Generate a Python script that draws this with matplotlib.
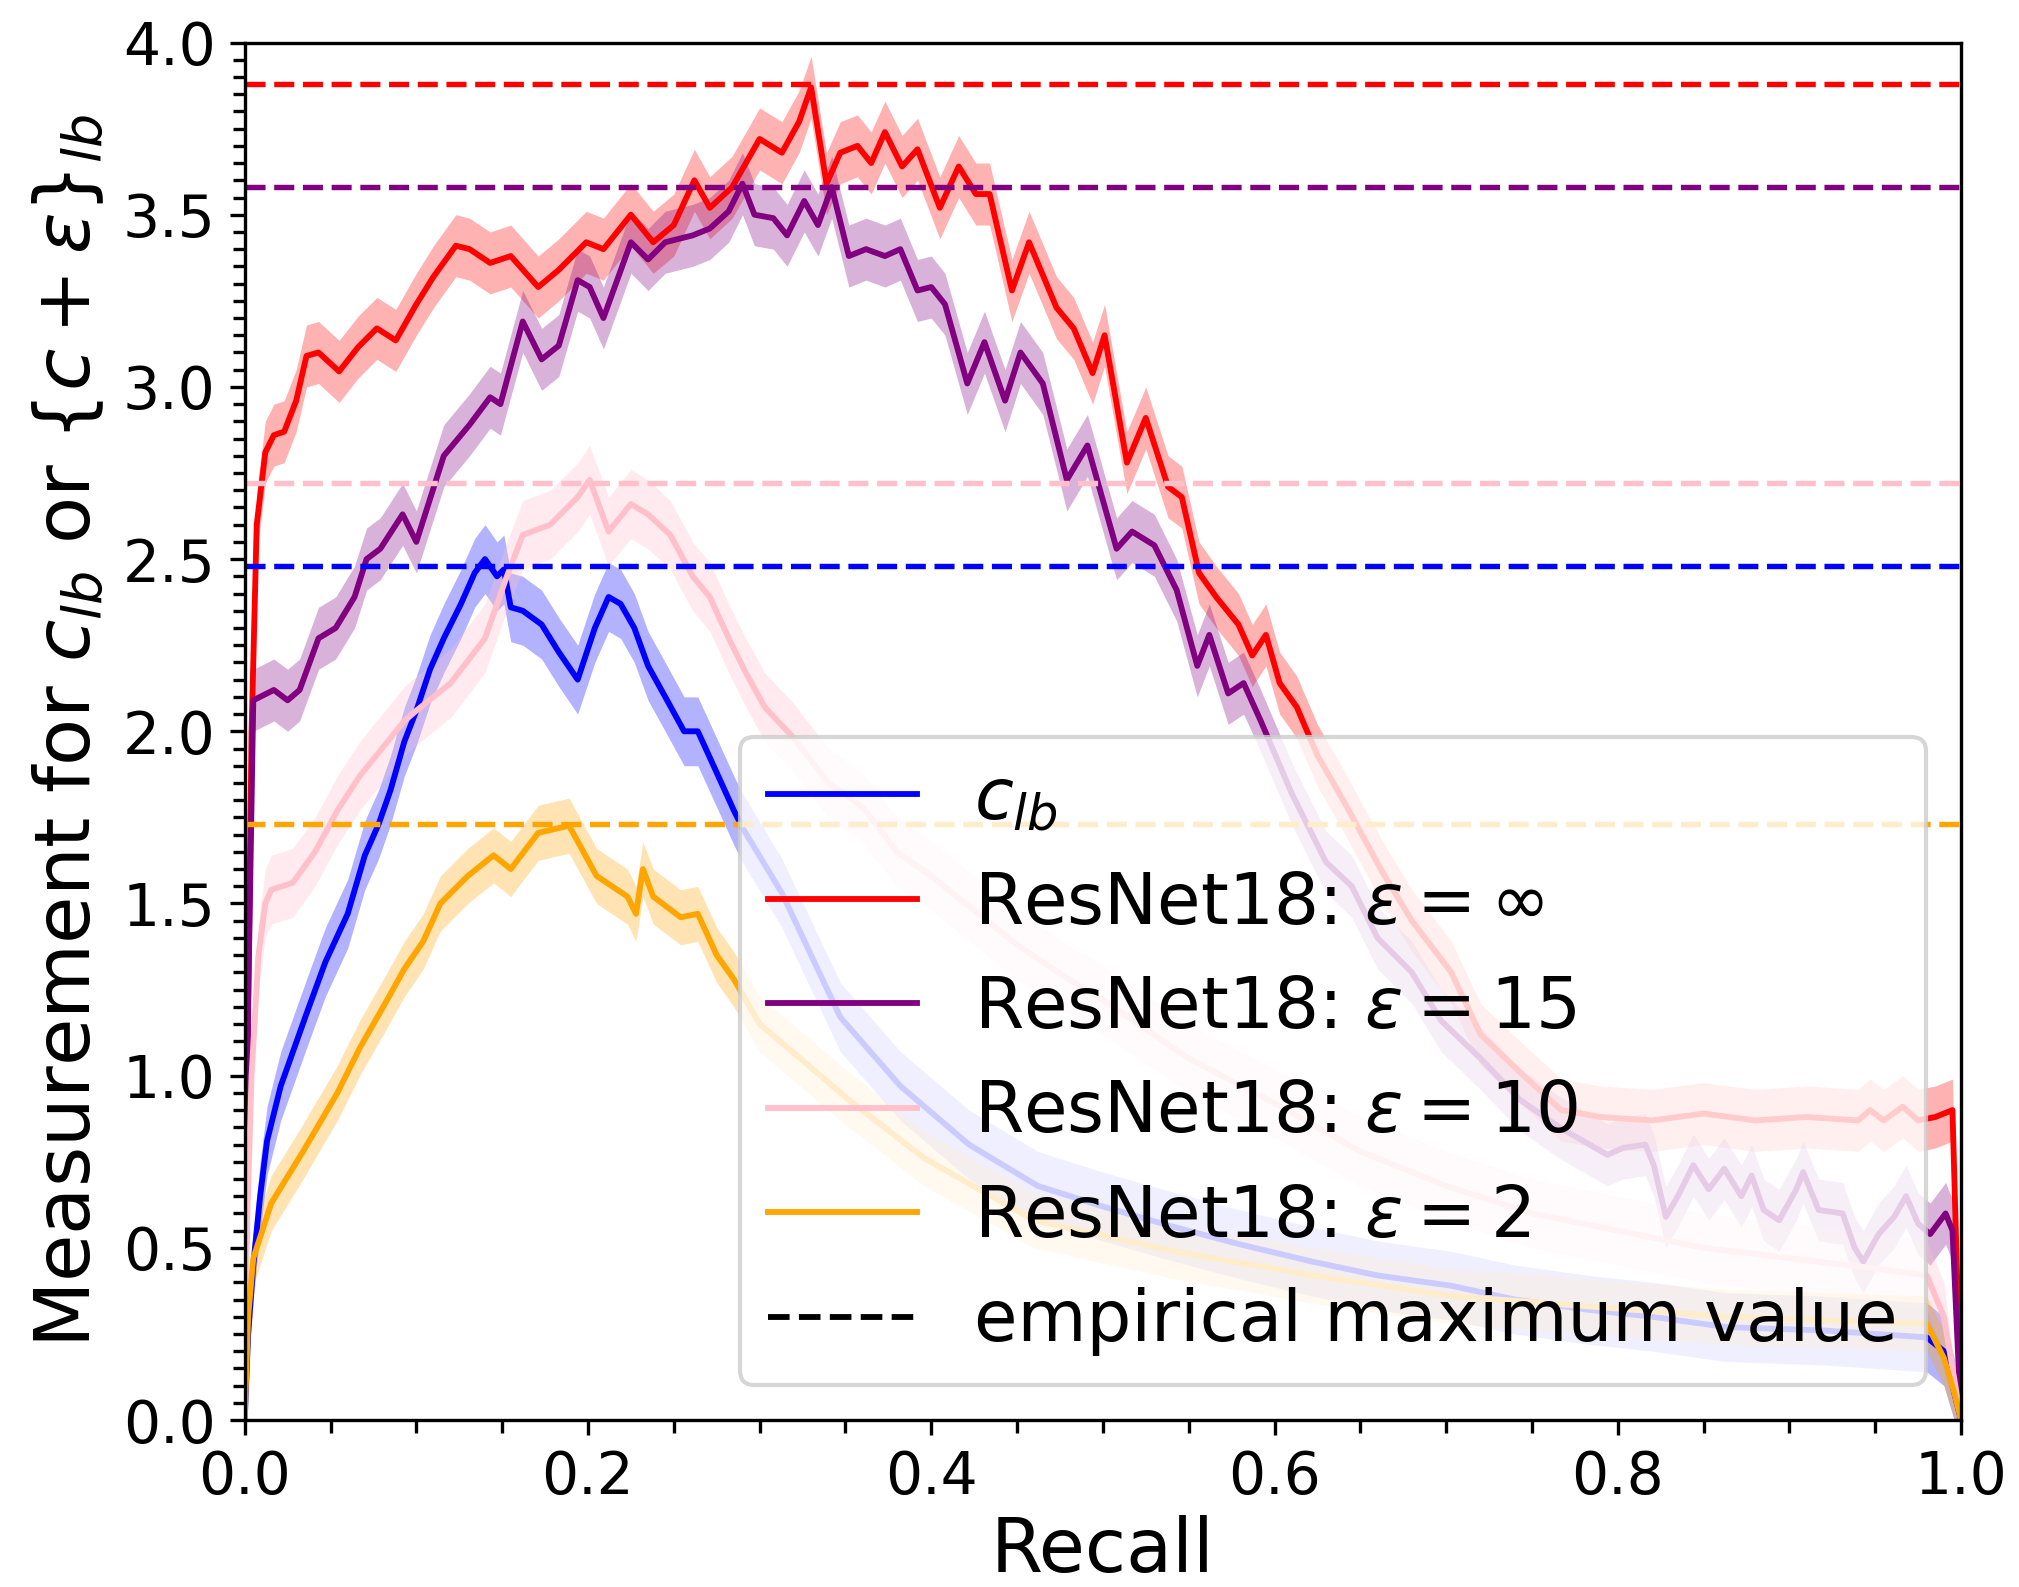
import numpy as np
import matplotlib
matplotlib.use("Agg")
import matplotlib.pyplot as plt
from matplotlib.ticker import MultipleLocator
from matplotlib.lines import Line2D

# ---------------- data ----------------
blue_x = [0, .002, .005, .009, .013, .021, .031, .036, .047, .06, .07, .078, .085, .093, .1, .108,
          .116, .126, .134, .14, .147, .151, .155, .162, .173, .183, .194, .204, .212, .219, .227,
          .235, .245, .256, .264, .275, .285, .29, .313, .347, .382, .422, .462, .5, .542, .58,
          .622, .66, .703, .74, .783, .82, .863, .92, .98, .99, .996, 1.0]
blue_y = [0, .25, .45, .65, .81, .97, 1.11, 1.18, 1.33, 1.47, 1.64, 1.73, 1.83, 1.97, 2.06, 2.18,
          2.27, 2.37, 2.46, 2.50, 2.45, 2.47, 2.36, 2.35, 2.31, 2.23, 2.15, 2.30, 2.39, 2.37, 2.30,
          2.19, 2.10, 2.0, 2.0, 1.88, 1.77, 1.72, 1.53, 1.17, .97, .80, .68, .62, .56, .51,
          .46, .42, .39, .35, .32, .30, .27, .26, .24, .20, .08, 0]

red_x = [0, .002, .004, .007, .012, .017, .023, .030, .036, .043, .055, .066, .077, .088, .10, .11,
         .123, .131, .143, .155, .171, .183, .199, .209, .225, .238, .25, .262, .271, .284, .30,
         .313, .323, .33, .339, .347, .357, .365, .373, .383, .392, .405, .416, .426, .434, .447,
         .457, .473, .483, .494, .501, .514, .525, .538, .546, .556, .566, .579, .587, .595, .603,
         .613, .625, .64, .663, .68, .703, .72, .743, .767, .79, .82, .85, .88, .91, .94, .947,
         .955, .966, .975, .985, .995, 1.0]
red_y = [0, 1.2, 2.0, 2.6, 2.81, 2.86, 2.87, 2.96, 3.09, 3.10, 3.045, 3.115, 3.17, 3.135, 3.24, 3.32,
         3.41, 3.40, 3.36, 3.38, 3.29, 3.34, 3.42, 3.40, 3.50, 3.42, 3.47, 3.60, 3.52, 3.58, 3.72,
         3.68, 3.77, 3.87, 3.59, 3.68, 3.70, 3.65, 3.74, 3.64, 3.69, 3.52, 3.64, 3.56, 3.56, 3.28,
         3.42, 3.23, 3.17, 3.04, 3.15, 2.78, 2.91, 2.71, 2.68, 2.46, 2.39, 2.31, 2.22, 2.28, 2.14,
         2.07, 1.93, 1.80, 1.59, 1.45, 1.30, 1.12, 1.01, .90, .88, .87, .89, .87, .88, .87, .90,
         .87, .91, .87, .88, .90, 0]

purple_x = [0, .002, .005, .017, .025, .032, .043, .053, .064, .071, .079, .092, .10, .116, .131,
            .143, .149, .162, .173, .183, .194, .201, .209, .225, .235, .245, .261, .271, .282,
            .29, .297, .308, .316, .326, .334, .342, .352, .362, .373, .382, .392, .40, .408, .421,
            .431, .443, .452, .465, .479, .491, .508, .517, .53, .543, .555, .562, .573, .582,
            .592, .61, .63, .645, .66, .68, .697, .72, .743, .766, .794, .803, .816, .821, .828,
            .835, .844, .853, .862, .872, .878, .885, .894, .904, .908, .917, .931, .938, .943,
            .952, .961, .968, .975, .982, .991, .995, 1.0]
purple_y = [0, 1.2, 2.09, 2.12, 2.09, 2.12, 2.27, 2.30, 2.39, 2.50, 2.53, 2.63, 2.55, 2.80, 2.89,
            2.97, 2.95, 3.19, 3.08, 3.12, 3.31, 3.29, 3.20, 3.42, 3.37, 3.42, 3.44, 3.46, 3.51,
            3.59, 3.50, 3.49, 3.44, 3.54, 3.47, 3.58, 3.38, 3.40, 3.38, 3.40, 3.28, 3.29, 3.24, 3.01,
            3.13, 2.96, 3.10, 3.01, 2.73, 2.83, 2.53, 2.58, 2.54, 2.41, 2.19, 2.28, 2.11, 2.14,
            2.03, 1.82, 1.62, 1.55, 1.40, 1.30, 1.16, 1.05, .93, .85, .77, .79, .80, .74, .59,
            .65, .74, .67, .73, .65, .71, .61, .58, .67, .72, .61, .60, .50, .46,
            .54, .59, .65, .57, .54, .60, .55, 0]

pink_x = [0, .001, .004, .008, .012, .0155, .028, .041, .054, .067, .08, .093, .10, .12, .14, .152,
          .162, .178, .194, .201, .212, .225, .235, .248, .261, .271, .282, .292, .303, .32, .34,
          .36, .38, .40, .42, .45, .48, .5, .55, .6, .65, .7, .75, .8, .85, .9, .95, .98, .99, 1.0]
pink_y = [0, .5, 1.0, 1.35, 1.5, 1.54, 1.56, 1.65, 1.77, 1.87, 1.95, 2.03, 2.06, 2.14, 2.27, 2.44,
          2.57, 2.60, 2.68, 2.73, 2.58, 2.66, 2.63, 2.57, 2.45, 2.39, 2.27, 2.17, 2.07, 1.98, 1.85,
          1.78, 1.65, 1.58, 1.50, 1.38, 1.28, 1.22, 1.05, .92, .78, .68, .60, .55, .50, .47, .44,
          .42, .30, 0]

orange_x = [0, .002, .005, .0155, .034, .054, .067, .083, .093, .104, .114, .13, .145, .155, .171,
            .189, .205, .223, .228, .232, .238, .254, .264, .275, .285, .30, .352, .396, .46, .542,
            .622, .703, .783, .863, .98, .99, .996, 1.0]
orange_y = [0, .3, .47, .63, .78, .95, 1.08, 1.22, 1.31, 1.39, 1.50, 1.58, 1.64, 1.60, 1.705,
            1.726, 1.58, 1.52, 1.47, 1.60, 1.52, 1.46, 1.47, 1.35, 1.28, 1.15, .93, .76, .58, .49,
            .42, .36, .33, .30, .28, .18, .08, 0]

# half-width of the shaded spread band for each series
band_width = {"blue": 0.10, "red": 0.09, "purple": 0.09, "pink": 0.10, "orange": 0.08}

# empirical maximum values (dashed horizontal lines)
max_values = {"red": 3.88, "purple": 3.58, "pink": 2.72, "blue": 2.48, "orange": 1.73}

labels = [r"$c_{lb}$",
          r"ResNet18: $\varepsilon = \infty$",
          r"ResNet18: $\varepsilon = 15$",
          r"ResNet18: $\varepsilon = 10$",
          r"ResNet18: $\varepsilon = 2$",
          "empirical maximum value"]

# ---------------- plotting ----------------
fig = plt.figure(figsize=(2019 / 300, 1587 / 300), dpi=300)
ax = fig.add_axes([0.1212, 0.1052, 0.8501, 0.8680])

series = [("blue", blue_x, blue_y), ("red", red_x, red_y), ("purple", purple_x, purple_y),
          ("pink", pink_x, pink_y), ("orange", orange_x, orange_y)]

handles = []
for (col, xs, ys), lab in zip(series, labels[:5]):
    xs = np.asarray(xs, float)
    ys = np.asarray(ys, float)
    w = band_width[col]
    lo = np.clip(ys - w, 0, None)
    hi = ys + w
    lo[ys == 0] = 0
    hi[ys == 0] = 0
    ax.fill_between(xs, lo, hi, color=col, alpha=0.3, linewidth=0)
    h, = ax.plot(xs, ys, color=col, lw=1.4, label=lab)
    handles.append(h)

for col in ["red", "purple", "pink", "blue", "orange"]:
    ax.axhline(max_values[col], color=col, lw=1.3, ls="--")

handles.append(Line2D([], [], color="black", lw=1.4, ls="--"))

ax.set_xlim(0, 1)
ax.set_ylim(0, 4)
ax.xaxis.set_major_locator(MultipleLocator(0.2))
ax.xaxis.set_minor_locator(MultipleLocator(0.05))
ax.yaxis.set_major_locator(MultipleLocator(0.5))
ax.yaxis.set_minor_locator(MultipleLocator(0.05))
ax.tick_params(which="major", labelsize=14, length=3.5, width=0.8)
ax.tick_params(which="minor", length=3, width=0.8)

ax.set_xlabel("Recall", fontsize=18, labelpad=2)
ax.set_ylabel(r"Measurement for $c_{lb}$ or $\{c+\varepsilon\}_{lb}$", fontsize=18.5, labelpad=4)

ax.legend(handles, labels, loc="lower right", fontsize=17, handlelength=2.1, framealpha=0.8)

fig.savefig("out.png", dpi=300)
